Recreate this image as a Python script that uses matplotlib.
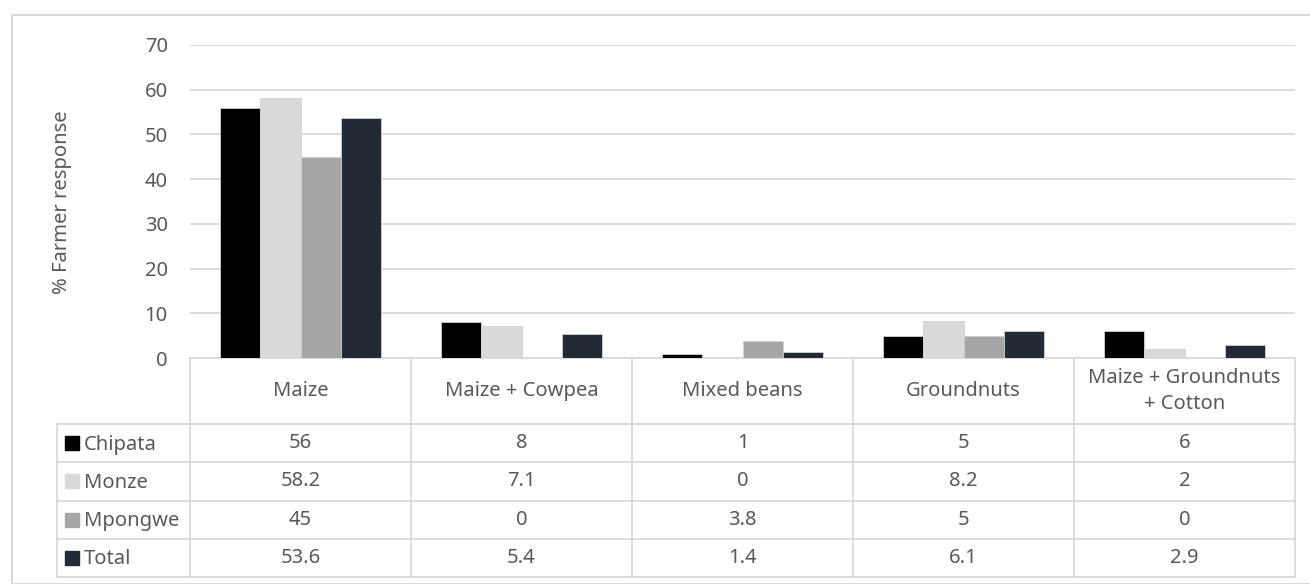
import matplotlib
matplotlib.use('Agg')
import matplotlib.pyplot as plt
import numpy as np

plt.rcParams['font.family'] = ['Noto Sans', 'DejaVu Sans']

categories = ['Maize', 'Maize + Cowpea', 'Mixed beans', 'Groundnuts',
              'Maize + Groundnuts\n+ Cotton']
series = ['Chipata', 'Monze', 'Mpongwe', 'Total']
chipata = [56, 8, 1, 5, 6]
monze = [58.2, 7.1, 0, 8.2, 2]
mpongwe = [45, 0, 3.8, 5, 0]
total = [53.6, 5.4, 1.4, 6.1, 2.9]
values = [chipata, monze, mpongwe, total]
colors = ['#000000', '#d9d9d9', '#a6a6a6', '#222a35']

W, H = 1310, 584
txt = '#595959'
line = '#d9d9d9'
fs = 14.5

fig = plt.figure(figsize=(W / 100, H / 100), dpi=100)

# outer chart border
fig.patches.append(plt.Rectangle((12 / W, 0), 1.2, (H - 15) / H, transform=fig.transFigure,
                                 fill=False, edgecolor=line, linewidth=1.5))

# plot area (pixel geometry from the reference)
x0, x1 = 190, 1295
y_top, y_zero = 45, 358
ax = fig.add_axes([x0 / W, (H - y_zero) / H, (x1 - x0) / W, (y_zero - y_top) / H])
x = np.arange(len(categories))
bw = 0.181
for i, (vals, c) in enumerate(zip(values, colors)):
    ax.bar(x + (i - 1.5) * bw, vals, width=bw, color=c, edgecolor='#d0d0d0',
           linewidth=0.6, zorder=3, label=series[i])
ax.set_xlim(-0.5, len(categories) - 0.5)
ax.set_ylim(0, 70)
ax.set_yticks(range(0, 71, 10))
ax.grid(axis='y', color=line, linewidth=1.3, zorder=0)
ax.set_xticks([])
for s in ['top', 'right', 'left']:
    ax.spines[s].set_visible(False)
ax.spines['bottom'].set_color(line)
ax.spines['bottom'].set_linewidth(1.3)
ax.tick_params(axis='y', length=0, pad=16, labelsize=fs, labelcolor=txt)
fig.text(62 / W, 1 - 202 / H, '% Farmer response', rotation=90, ha='center', va='center',
         fontsize=fs, color=txt)

# data table
tl = 57
t_bot = 577
head_h = 66
row_h = (t_bot - y_zero - head_h) / len(series)
tax = fig.add_axes([tl / W, (H - t_bot) / H, (x1 - tl) / W, (t_bot - y_zero) / H])
cw = (x1 - x0) / len(categories)
xl = -0.5 - (x0 - tl) / cw
tax.set_xlim(xl, len(categories) - 0.5)
tax.set_ylim(t_bot - y_zero, 0)
tax.axis('off')
lk = dict(color=line, linewidth=1.3, clip_on=False)
# vertical lines
for b in np.arange(len(categories) + 1) - 0.5:
    tax.plot([b, b], [0, t_bot - y_zero], **lk)
tax.plot([xl, xl], [head_h, t_bot - y_zero], **lk)
# horizontal lines
for r in range(len(series) + 1):
    yy = head_h + r * row_h
    tax.plot([xl, len(categories) - 0.5], [yy, yy], **lk)

for j, cat in enumerate(categories):
    tax.text(j, head_h / 2, cat, ha='center', va='center', fontsize=fs, color=txt,
             linespacing=1.45)
for r, (name, vals, c) in enumerate(zip(series, values, colors)):
    yc = head_h + (r + 0.5) * row_h
    tax.add_patch(plt.Rectangle((xl + 8 / cw, yc - 7), 14 / cw, 14, color=c, clip_on=False))
    tax.text(xl + 27 / cw, yc - 1, name, ha='left', va='center_baseline', fontsize=fs, color=txt)
    for j, v in enumerate(vals):
        tax.text(j, yc, f'{v:g}', ha='center', va='center', fontsize=fs, color=txt)

fig.savefig('out.png', dpi=100)
